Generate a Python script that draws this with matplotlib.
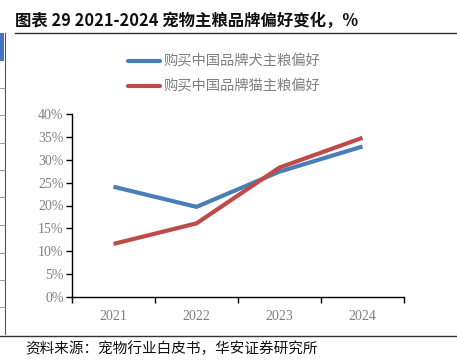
import matplotlib
matplotlib.use("Agg")
import matplotlib.pyplot as plt
from matplotlib.lines import Line2D
from matplotlib.patches import Rectangle
import numpy as np

years = ["2021", "2022", "2023", "2024"]
dog = [24.1, 19.7, 27.4, 32.9]
cat = [11.6, 16.1, 28.3, 34.8]
series_names = ["购买中国品牌犬主粮偏好", "购买中国品牌猫主粮偏好"]
yticks = [0, 5, 10, 15, 20, 25, 30, 35, 40]

CJK = ["Noto Sans CJK SC", "DejaVu Sans"]
SERIF = ["Liberation Serif", "DejaVu Serif"]
W, H = 457, 364

fig = plt.figure(figsize=(W / 100, H / 100), dpi=100)

def fx(px):
    return px / W

def fy(py):
    return 1 - py / H

# title and frame lines
fig.text(fx(15), fy(21), "图表 29 2021-2024 宠物主粮品牌偏好变化，%", family=CJK,
         fontsize=11.8, fontweight="bold", va="center", ha="left", color="#111111")
fig.add_artist(Line2D([fx(15), 1], [fy(33), fy(33)], color="#333333", lw=1.0))
fig.add_artist(Line2D([0, 1], [fy(336), fy(336)], color="#333333", lw=1.0))
fig.text(fx(25), fy(349), "资料来源：宠物行业白皮书，华安证券研究所", family=CJK,
         fontsize=10.5, va="center", ha="left", color="#111111")

# left-edge table stub
fig.add_artist(Rectangle((0, fy(61)), fx(4), fy(33) - fy(61), color="#4472C4", lw=0))
fig.add_artist(Line2D([fx(4.5), fx(4.5)], [fy(33), fy(334)], color="#555555", lw=0.8))
for yy in [88, 115, 143, 170, 197, 225, 253, 280, 307]:
    fig.add_artist(Line2D([0, fx(4.5)], [fy(yy), fy(yy)], color="#888888", lw=0.6))

ax = fig.add_axes([fx(72), fy(297), fx(404) - fx(72), fy(114) - fy(297)])
x = np.arange(len(years))
ax.plot(x, dog, color="#4A7EBB", lw=3.0, solid_capstyle="butt", solid_joinstyle="miter")
ax.plot(x, cat, color="#BE4B48", lw=3.0, solid_capstyle="butt", solid_joinstyle="miter")

ax.set_xlim(-0.5, len(years) - 0.5)
ax.set_ylim(0, 40)
ax.set_yticks(yticks)
ax.set_yticklabels([f"{v}%" for v in yticks], family=SERIF, fontsize=10, color="#7F7F7F")
ax.set_xticks(x)
ax.set_xticklabels(years, family=SERIF, fontsize=10, color="#7F7F7F")
ax.set_xticks(np.arange(-0.5, len(years)), minor=True)
ax.tick_params(axis="x", which="major", length=0, pad=9)
ax.tick_params(axis="x", which="minor", length=4, width=1, color="#000000", direction="out")
ax.tick_params(axis="y", length=4, width=1, color="#000000", direction="out", pad=2)
for s in ["top", "right"]:
    ax.spines[s].set_visible(False)
for s in ["left", "bottom"]:
    ax.spines[s].set_color("#000000")
    ax.spines[s].set_linewidth(1.0)

# legend
for i, (name, col) in enumerate(zip(series_names, ["#4A7EBB", "#BE4B48"])):
    yy = 61 + i * 25
    fig.add_artist(Line2D([fx(128), fx(160)], [fy(yy), fy(yy)], color=col, lw=3.0,
                          solid_capstyle="round"))
    fig.text(fx(163), fy(yy), name, family=CJK, fontsize=10.3, va="center", ha="left",
             color="#7F7F7F")

fig.savefig("out.png", dpi=100)
